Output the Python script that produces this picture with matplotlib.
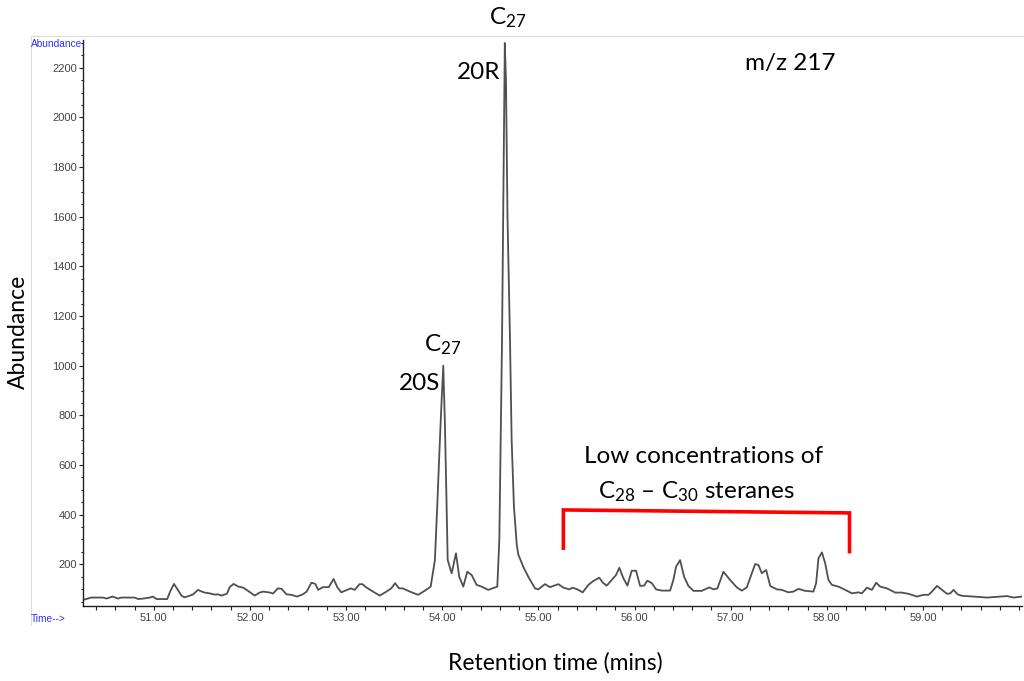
import matplotlib
matplotlib.use("Agg")
import matplotlib.pyplot as plt
from matplotlib.ticker import MultipleLocator, FormatStrFormatter
from matplotlib.lines import Line2D

plt.rcParams['mathtext.fontset'] = 'custom'
plt.rcParams['mathtext.rm'] = 'Lato'
plt.rcParams['mathtext.it'] = 'Lato'
plt.rcParams['mathtext.default'] = 'regular'

# Retention time (min) and abundance (m/z 217)
rt = [50.26, 50.35, 50.47, 50.51, 50.57, 50.63, 50.66, 50.80, 50.84, 50.89, 50.96, 50.99,
      51.03, 51.14, 51.17, 51.21, 51.25, 51.29, 51.32, 51.37, 51.41, 51.46, 51.50, 51.53,
      51.58, 51.63, 51.67, 51.70, 51.76, 51.79, 51.83, 51.88, 51.93, 51.98, 52.05, 52.10,
      52.14, 52.21, 52.24, 52.29, 52.33, 52.38, 52.43, 52.49, 52.55, 52.59, 52.64, 52.68,
      52.71, 52.76, 52.82, 52.87, 52.91, 52.95, 53.01, 53.05, 53.09, 53.14, 53.17, 53.21,
      53.28, 53.35, 53.42, 53.47, 53.51, 53.55, 53.59, 53.664, 53.75, 53.82, 53.88, 53.924,
      53.948, 53.976, 53.994, 54.011, 54.028, 54.046, 54.057, 54.098, 54.143, 54.177, 54.219,
      54.261, 54.306, 54.358, 54.410, 54.479, 54.549, 54.573, 54.594, 54.608, 54.622, 54.637,
      54.651, 54.663, 54.679, 54.705, 54.722, 54.746, 54.775, 54.791, 54.843, 54.895, 54.965,
      54.999, 55.069, 55.121, 55.208, 55.260, 55.322, 55.357, 55.405, 55.461, 55.520, 55.572,
      55.634, 55.670, 55.711, 55.763, 55.808, 55.842, 55.884, 55.926, 55.971, 56.016, 56.058,
      56.099, 56.134, 56.180, 56.224, 56.284, 56.370, 56.404, 56.432, 56.474, 56.516, 56.560,
      56.613, 56.700, 56.779, 56.821, 56.862, 56.925, 56.994, 57.064, 57.116, 57.168, 57.220,
      57.255, 57.289, 57.324, 57.369, 57.411, 57.480, 57.532, 57.601, 57.653, 57.705, 57.775,
      57.861, 57.889, 57.913, 57.949, 57.983, 58.017, 58.053, 58.121, 58.191, 58.261, 58.330,
      58.365, 58.417, 58.469, 58.514, 58.555, 58.625, 58.712, 58.781, 58.850, 58.937, 59.006,
      59.058, 59.093, 59.146, 59.198, 59.250, 59.284, 59.318, 59.360, 59.406, 59.526, 59.666,
      59.804, 59.874, 59.943, 60.03]
abundance = [56, 66, 66, 62, 70, 62, 66, 66, 60, 62, 66, 70,
             60, 60, 90, 121, 97, 73, 67, 73, 79, 97, 90, 86,
             83, 78, 79, 74, 81, 108, 121, 110, 106, 93, 74, 86,
             90, 86, 82, 103, 101, 79, 77, 70, 79, 90, 126, 121,
             97, 108, 108, 141, 107, 87, 97, 103, 97, 120, 120, 107,
             90, 74, 90, 103, 124, 103, 103, 90, 77, 94, 110, 217,
             432, 701, 862, 1000, 769, 432, 217, 164, 244, 150, 110,
             170, 157, 117, 110, 97, 107, 110, 298, 701, 1103, 1700,
             2300, 2150, 1600, 1103, 701, 432, 280, 240, 190, 150, 103,
             99, 120, 108, 120, 106, 99, 106, 99, 87, 117, 133,
             146, 126, 114, 137, 157, 186, 144, 114, 174, 174, 113,
             114, 134, 124, 99, 94, 94, 137, 190, 217, 150, 113,
             93, 93, 107, 99, 103, 170, 137, 107, 94, 107, 164,
             201, 197, 164, 177, 113, 99, 97, 87, 90, 101, 93,
             90, 124, 224, 248, 204, 137, 117, 110, 97, 83, 87,
             83, 106, 97, 126, 110, 103, 86, 86, 81, 70, 77,
             77, 90, 113, 97, 81, 83, 97, 79, 73, 70, 66,
             70, 72, 66, 70]

x_min, x_max = 50.264, 60.03
y_min, y_max = 32, 2312
x_major = [51.0, 52.0, 53.0, 54.0, 55.0, 56.0, 57.0, 58.0, 59.0]
y_major = [200, 400, 600, 800, 1000, 1200, 1400, 1600, 1800, 2000, 2200]

# bracket over C28-C30 region
bracket_t = [55.26, 55.26, 58.236, 58.236]
bracket_a = [265, 419, 407, 251]

fig = plt.figure(figsize=(10.24, 6.81), dpi=100)
ax = fig.add_axes([83/1024, 75/681, (1022-83)/1024, (606-40)/681])

ax.plot(rt, abundance, color='#505050', lw=1.3)
ax.set_xlim(x_min, x_max)
ax.set_ylim(y_min, y_max)

for s in ['top', 'right']:
    ax.spines[s].set_visible(False)
for s in ['left', 'bottom']:
    ax.spines[s].set_color('#222222')
    ax.spines[s].set_linewidth(1.0)

ax.set_xticks(x_major)
ax.xaxis.set_major_formatter(FormatStrFormatter('%.2f'))
ax.xaxis.set_minor_locator(MultipleLocator(0.2))
ax.set_yticks(y_major)
ax.yaxis.set_minor_locator(MultipleLocator(50))
ax.tick_params(axis='both', which='both', direction='out', color='#222222', width=0.8)
ax.tick_params(axis='x', which='major', length=3, pad=2)
ax.tick_params(axis='x', which='minor', length=3)
ax.tick_params(axis='y', which='major', length=3, pad=1.5)
ax.tick_params(axis='y', which='minor', length=1.5)
for lab in ax.get_xticklabels() + ax.get_yticklabels():
    lab.set_fontfamily('Liberation Sans')
    lab.set_fontsize(8)
    lab.set_color('#444444')

# ChemStation style frame lines and labels
fig.add_artist(Line2D([30.5/1024, 30.5/1024], [(681-36)/681, (681-625)/681],
                      transform=fig.transFigure, color='#dddddd', lw=0.8))
fig.add_artist(Line2D([30.5/1024, 1.0], [(681-36)/681, (681-36)/681],
                      transform=fig.transFigure, color='#dddddd', lw=0.8))
fig.text(31/1024, (681-44)/681, 'Abundance', color='#3030ff', fontsize=7.3,
         family='Liberation Sans', ha='left', va='center')
fig.text(31/1024, (681-619)/681, 'Time-->', color='#3030ff', fontsize=7.3,
         family='Liberation Sans', ha='left', va='center')

big = dict(family='Lato', color='black')
fig.text(18/1024, (681-332)/681, 'Abundance', rotation=90, ha='center', va='center',
         fontsize=16.5, **big)
fig.text(555/1024, (681-663)/681, 'Retention time (mins)', ha='center', va='center',
         fontsize=16.5, **big)

fs = 17.5
ax.text(57.15, 2219, 'm/z 217', ha='left', va='center', fontsize=fs, **big)
ax.text(54.684, 2400, 'C$_{27}$', ha='center', va='center', fontsize=fs, clip_on=False, **big)
ax.text(54.605, 2183, '20R', ha='right', va='center', fontsize=fs, **big)
ax.text(54.008, 1083, 'C$_{27}$', ha='center', va='center', fontsize=fs, **big)
ax.text(53.98, 930, '20S', ha='right', va='center', fontsize=fs, **big)
ax.text(56.713, 636, 'Low concentrations of', ha='center', va='center', fontsize=fs, **big)
ax.text(56.64, 491, 'C$_{28}$ – C$_{30}$ steranes', ha='center', va='center', fontsize=fs, **big)

ax.plot(bracket_t, bracket_a, color='#ff0000', lw=2.6, solid_joinstyle='miter')

fig.savefig('out.png', dpi=100)
